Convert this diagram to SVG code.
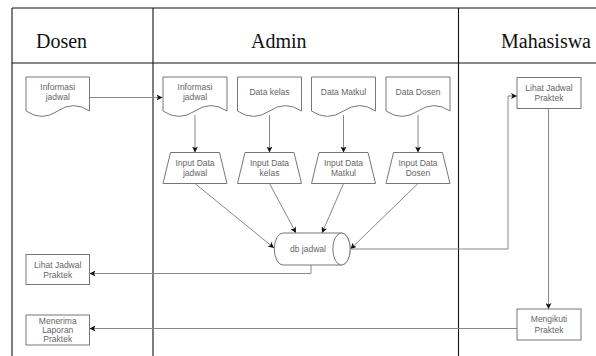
<svg xmlns="http://www.w3.org/2000/svg" width="596" height="356" viewBox="0 0 596 356">
  <defs>
    <marker id="arrow" viewBox="0 0 6 6" refX="6" refY="3" markerWidth="6" markerHeight="6" markerUnits="userSpaceOnUse" orient="auto">
      <path d="M0,0 L6,3 L0,6 L1.5,3 Z" fill="#111"/>
    </marker>
    <style>
      .grid { stroke: #111; stroke-width: 1.1; fill: none; }
      .lane { font-family: "Liberation Serif", "Times New Roman", serif; font-size: 20px; fill: #111; }
      .shape { fill: #fff; stroke: #777; stroke-width: 1; }
      .label { font-family: "Liberation Sans", Arial, sans-serif; font-size: 8.5px; fill: #666; text-anchor: middle; }
      .edge { fill: none; stroke: #888; stroke-width: 1; marker-end: url(#arrow); }
    </style>
  </defs>
  <rect width="596" height="356" fill="#fff"/>

  <!-- swimlane table -->
  <g id="lanes">
    <line class="grid" x1="12" y1="8" x2="596" y2="8"/>
    <line class="grid" x1="12" y1="63" x2="596" y2="63"/>
    <line class="grid" x1="12" y1="8" x2="12" y2="356"/>
    <line class="grid" x1="153" y1="8" x2="153" y2="356"/>
    <line class="grid" x1="458.5" y1="8" x2="458.5" y2="356"/>
    <text class="lane" x="36" y="48">Dosen</text>
    <text class="lane" x="251" y="48">Admin</text>
    <text class="lane" x="501" y="48">Mahasiswa</text>
  </g>

  <!-- connectors -->
  <g id="connectors">
    <path class="edge" d="M89.5,97.5 H162.5"/>
    <path class="edge" d="M195,115 V152.5"/>
    <path class="edge" d="M269.5,115 V152.5"/>
    <path class="edge" d="M343.5,115 V152.5"/>
    <path class="edge" d="M418,115 V152.5"/>
    <path class="edge" d="M195,183.5 L274,248"/>
    <path class="edge" d="M269.5,183.5 L296,233"/>
    <path class="edge" d="M343.5,183.5 L322,233"/>
    <path class="edge" d="M418,183.5 L350.5,249"/>
    <path class="edge" d="M311,265 V273.5 H89.5"/>
    <path class="edge" d="M350.5,249 H508 V96 H517"/>
    <path class="edge" d="M548.5,108.5 V309"/>
    <path class="edge" d="M517,328.5 H89.5"/>
  </g>

  <!-- Dosen lane -->
  <g id="dosen-informasi-jadwal">
    <path class="shape" d="M26,77 H89.5 V111 Q73.6,100.2 57.75,111 Q41.9,121.8 26,111 Z"/>
    <text class="label" x="57.75" y="90">Informasi</text>
    <text class="label" x="57.75" y="100">jadwal</text>
  </g>
  <g id="dosen-lihat-jadwal">
    <rect class="shape" x="26" y="254.5" width="63.5" height="30"/>
    <text class="label" x="57.75" y="268">Lihat Jadwal</text>
    <text class="label" x="57.75" y="278">Praktek</text>
  </g>
  <g id="dosen-menerima-laporan">
    <rect class="shape" x="26" y="315" width="63.5" height="30"/>
    <text class="label" x="57.75" y="324">Menerima</text>
    <text class="label" x="57.75" y="333">Laporan</text>
    <text class="label" x="57.75" y="342">Praktek</text>
  </g>

  <!-- Admin lane: documents -->
  <g id="admin-informasi-jadwal">
    <path class="shape" d="M163,77 H227 V111 Q211,100.2 195,111 Q179,121.8 163,111 Z"/>
    <text class="label" x="195" y="90">Informasi</text>
    <text class="label" x="195" y="100">jadwal</text>
  </g>
  <g id="admin-data-kelas">
    <path class="shape" d="M237.5,77 H301.5 V111 Q285.5,100.2 269.5,111 Q253.5,121.8 237.5,111 Z"/>
    <text class="label" x="269.5" y="95">Data kelas</text>
  </g>
  <g id="admin-data-matkul">
    <path class="shape" d="M311.5,77 H375.5 V111 Q359.5,100.2 343.5,111 Q327.5,121.8 311.5,111 Z"/>
    <text class="label" x="343.5" y="95">Data Matkul</text>
  </g>
  <g id="admin-data-dosen">
    <path class="shape" d="M386,77 H450 V111 Q434,100.2 418,111 Q402,121.8 386,111 Z"/>
    <text class="label" x="418" y="95">Data Dosen</text>
  </g>

  <!-- Admin lane: manual inputs -->
  <g id="input-jadwal">
    <path class="shape" d="M170.5,152.5 H219.5 L227,183.5 H163 Z"/>
    <text class="label" x="195" y="166">Input Data</text>
    <text class="label" x="195" y="175.5">jadwal</text>
  </g>
  <g id="input-kelas">
    <path class="shape" d="M245,152.5 H294 L301.5,183.5 H237.5 Z"/>
    <text class="label" x="269.5" y="166">Input Data</text>
    <text class="label" x="269.5" y="175.5">kelas</text>
  </g>
  <g id="input-matkul">
    <path class="shape" d="M319,152.5 H368 L375.5,183.5 H311.5 Z"/>
    <text class="label" x="343.5" y="166">Input Data</text>
    <text class="label" x="343.5" y="175.5">Matkul</text>
  </g>
  <g id="input-dosen">
    <path class="shape" d="M393.5,152.5 H442.5 L450,183.5 H386 Z"/>
    <text class="label" x="418" y="166">Input Data</text>
    <text class="label" x="418" y="175.5">Dosen</text>
  </g>

  <!-- database -->
  <g id="db-jadwal">
    <path class="shape" d="M283,233 H341.5 A8.7,16 0 0 1 341.5,265 H283 A8.7,16 0 0 1 283,233 Z"/>
    <ellipse class="shape" cx="341.5" cy="249" rx="8.7" ry="16"/>
    <text class="label" x="308" y="252">db jadwal</text>
  </g>

  <!-- Mahasiswa lane -->
  <g id="mhs-lihat-jadwal">
    <rect class="shape" x="517" y="77.5" width="64" height="31"/>
    <text class="label" x="549" y="90.5">Lihat Jadwal</text>
    <text class="label" x="549" y="101">Praktek</text>
  </g>
  <g id="mhs-mengikuti">
    <rect class="shape" x="517" y="309" width="64" height="31"/>
    <text class="label" x="549" y="322">Mengikuti</text>
    <text class="label" x="549" y="332.5">Praktek</text>
  </g>
</svg>
